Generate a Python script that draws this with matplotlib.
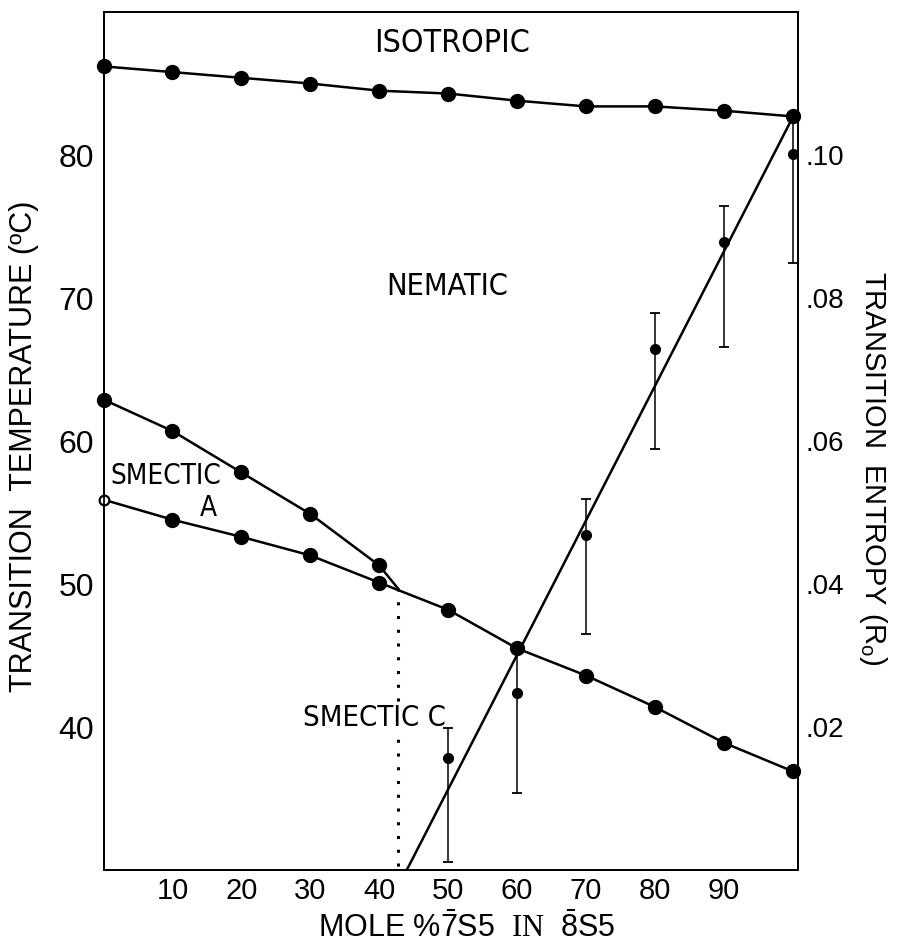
import matplotlib
matplotlib.use("Agg")
import matplotlib.pyplot as plt

plt.rcParams['font.family'] = ['Liberation Sans', 'DejaVu Sans']
plt.rcParams['mathtext.fontset'] = 'custom'
plt.rcParams['mathtext.rm'] = 'Liberation Serif'

# --- phase diagram of 7S5 / 8S5 mixtures ---
mole_pct = [0, 10, 20, 30, 40, 50, 60, 70, 80, 90, 100]

# isotropic -> nematic
t_iso = [86.2, 85.8, 85.4, 85.0, 84.5, 84.3, 83.8, 83.4, 83.4, 83.1, 82.7]

# nematic -> smectic A (only up to the triple point)
x_nsa = [0, 10, 20, 30, 40]
t_nsa = [62.9, 60.7, 57.8, 54.9, 51.3]

# smectic A -> smectic C, then nematic -> smectic C past the triple point
t_lower = [55.9, 54.5, 53.3, 52.0, 50.1, 48.2, 45.5, 43.6, 41.4, 38.9, 36.9]

# N - SmA - SmC triple point
tp_x = 42.7
tp_t = 49.7

# transition entropy (units of R) with error limits
x_ent = [50, 60, 70, 80, 90, 100]
s_ent = [0.0157, 0.0248, 0.0469, 0.0729, 0.0878, 0.1001]
s_low = [0.0011, 0.0108, 0.0330, 0.0589, 0.0732, 0.0849]
s_high = [0.0199, 0.0311, 0.0519, 0.0779, 0.0929, 0.1053]

# straight line through the entropy data
fit_x = [44.0, 100]
fit_s = [0.0, 0.1053]

fig = plt.figure(figsize=(9, 9.47), dpi=100)
ax = fig.add_axes([0.115, 0.0813, 0.772, 0.906])
ax2 = ax.twinx()

lw = 1.8
ms = 10
ax.plot(mole_pct, t_iso, '-o', color='black', lw=lw, ms=ms, clip_on=False, zorder=4)
ax.plot(x_nsa + [tp_x], t_nsa + [tp_t], '-', color='black', lw=lw, zorder=4)
ax.plot(x_nsa, t_nsa, 'o', color='black', ms=ms, clip_on=False, zorder=4)
ax.plot(mole_pct, t_lower, '-', color='black', lw=lw, zorder=4)
ax.plot(mole_pct[1:], t_lower[1:], 'o', color='black', ms=ms, clip_on=False, zorder=4)
ax.plot(mole_pct[0], t_lower[0], 'o', mfc='white', mec='black', mew=1.6, ms=7,
        clip_on=False, zorder=5)

# SmA / SmC boundary below the triple point
ax.plot([tp_x, tp_x], [tp_t, 30], color='black', lw=2.2, linestyle=(0, (1, 3.5)), zorder=2)

ax.set_xlim(0, 100.8)
ax.set_ylim(30, 90)
ax.set_xticks([10, 20, 30, 40, 50, 60, 70, 80, 90])
ax.set_yticks([40, 50, 60, 70, 80])
ax.tick_params(axis='x', length=0, labelsize=21, pad=5)
ax.tick_params(axis='y', length=0, labelsize=23, pad=7)

# entropy on the right-hand scale
yerr = [[s - lo for s, lo in zip(s_ent, s_low)],
        [hi - s for s, hi in zip(s_ent, s_high)]]
ax2.errorbar(x_ent, s_ent, yerr=yerr, fmt='o', color='black', ms=7,
             elinewidth=1.1, capsize=3.5, capthick=1.3, clip_on=False)
ax2.plot(fit_x, fit_s, '-', color='black', lw=lw)
ax2.set_ylim(0, 0.12)
ax2.set_yticks([0.02, 0.04, 0.06, 0.08, 0.10])
ax2.set_yticklabels(['.02', '.04', '.06', '.08', '.10'])
ax2.tick_params(axis='y', length=0, labelsize=20, pad=5)

for a in (ax, ax2):
    for sp in a.spines.values():
        sp.set_linewidth(1.3)

# region names in a condensed face
cond = dict(family='DejaVu Sans', fontstretch='condensed')
ax.text(50.5, 87.8, 'ISOTROPIC', fontsize=23, ha='center', va='center', **cond)
ax.text(49.8, 70.8, 'NEMATIC', fontsize=22, ha='center', va='center', **cond)
ax.text(1.0, 57.55, 'SMECTIC', fontsize=20, ha='left', va='center', **cond)
ax.text(15.2, 55.3, 'A', fontsize=20, ha='center', va='center', **cond)
ax.text(28.9, 40.6, 'SMECTIC C', fontsize=21, ha='left', va='center',
        bbox=dict(facecolor='white', edgecolor='none', pad=0.5), zorder=3, **cond)

ax.set_ylabel('TRANSITION  TEMPERATURE (ºC)', fontsize=22)
ax.yaxis.set_label_coords(-0.114, 0.494)
ax.yaxis.label.set_va('center')

ax2.set_ylabel(r'TRANSITION  ENTROPY ($\mathregular{R_o}$)', fontsize=21, rotation=-90)
ax2.yaxis.set_label_coords(1.107, 0.468)
ax2.yaxis.label.set_va('center')

ax.set_xlabel(r'MOLE %$\mathregular{\bar{7}}$S5  $\mathrm{IN}$  $\mathregular{\bar{8}}$S5',
              fontsize=22)
ax.xaxis.set_label_coords(0.523, -0.068)
ax.xaxis.label.set_va('center')

fig.savefig('out.png', dpi=100)
